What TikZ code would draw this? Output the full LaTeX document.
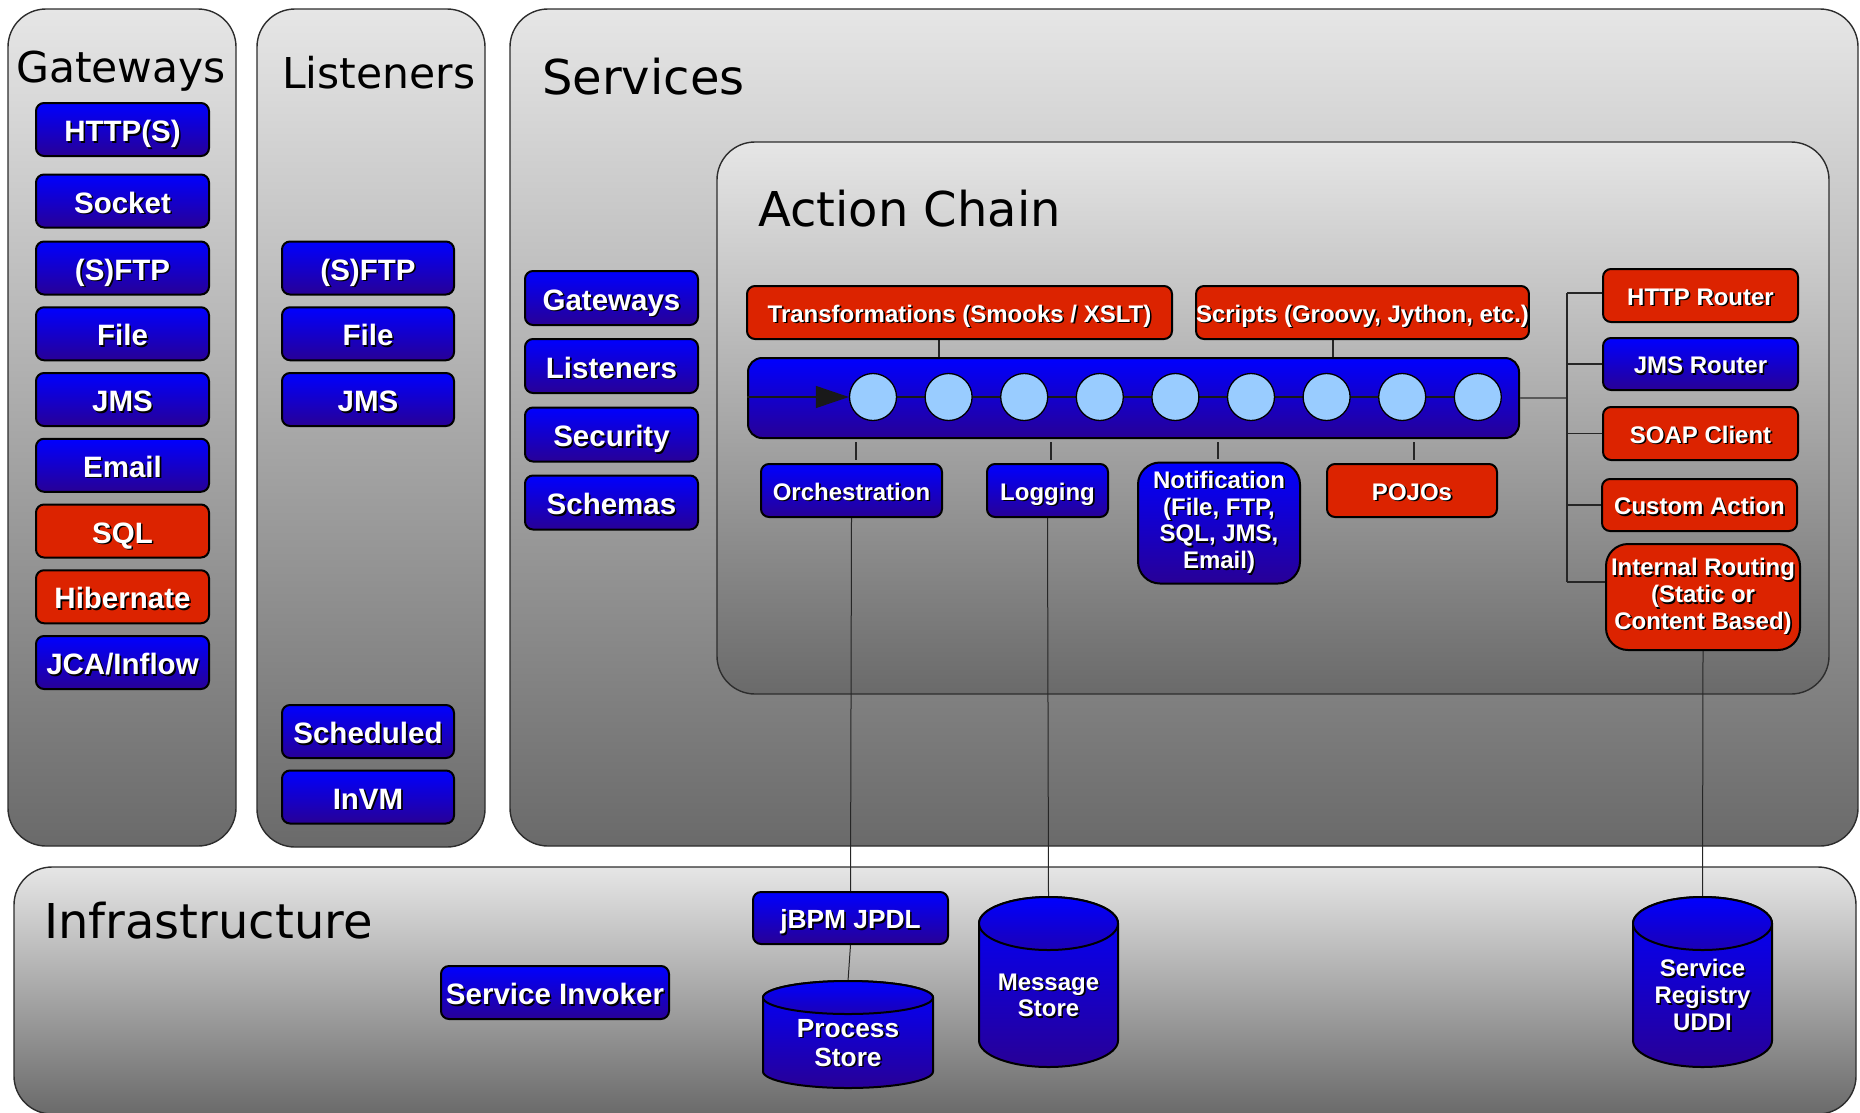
\documentclass[tikz,border=0pt]{standalone}
\usepackage{fontspec}
\setmainfont{Liberation Sans}
\newfontfamily\titlefont{DejaVu Sans}
\usetikzlibrary{arrows.meta,calc}
\definecolor{bTop}{RGB}{0,0,255}
\definecolor{bBot}{RGB}{40,0,150}
\definecolor{rFill}{RGB}{220,35,0}
\definecolor{pTop}{RGB}{230,230,230}
\definecolor{pBot}{RGB}{106,106,106}
\definecolor{circ}{RGB}{153,204,255}
\definecolor{pEdge}{RGB}{45,45,45}
\newcommand{\shx}[1]{\leavevmode\rlap{\hspace{1.6pt}\raisebox{-1.6pt}{\color{black}#1}}#1}
\newcommand{\cylbody}[6]{%
 \path[top color=bTop, bottom color=bBot, draw=black, line width=2pt]
   (#2-#3,#4) -- (#2-#3,#5) arc[start angle=180,end angle=360,x radius=#3pt,y radius=#6pt]
   -- (#2+#3,#4) arc[start angle=0,end angle=180,x radius=#3pt,y radius=#6pt] -- cycle;
 \path[top color=bTop, bottom color=bBot!70!bTop, draw=black, line width=2pt]
   (#2,#4) ellipse[x radius=#3pt, y radius=#6pt];
 \coordinate (#1) at (#2,#4-#6);
}
\pgfdeclarelayer{panel}\pgfdeclarelayer{conn}\pgfdeclarelayer{chainline}
\pgfsetlayers{panel,conn,chainline,main}
\tikzset{
  panel/.style={draw=pEdge, line width=1.4pt, rounded corners=38pt, top color=pTop, bottom color=pBot, inner sep=0pt},
  sz/.style 2 args={minimum width=#1pt, minimum height=#2pt},
  box/.style={draw=black, line width=2pt, rounded corners=8pt, inner sep=0pt, text=white,
     font=\bfseries\fontsize{29.5}{34}\selectfont, align=center},
  one/.style={text height=25.1pt, text depth=1pt},
  onesm/.style={text height=20pt, text depth=0.4pt},
  onemid/.style={text height=21.5pt, text depth=0.3pt},
  bluebox/.style={box, top color=bTop, bottom color=bBot},
  redbox/.style={box, fill=rFill},
  small/.style={font=\bfseries\fontsize{24}{26.7}\selectfont},
  mid/.style={font=\bfseries\fontsize{26.3}{29}\selectfont},
  bigtitle/.style={anchor=base west, font=\titlefont\fontsize{48}{56}\selectfont, inner sep=0pt},
  smalltitle/.style={anchor=base west, font=\titlefont\fontsize{42.5}{50}\selectfont, inner sep=0pt},
  conn/.style={draw=black!85, line width=1.3pt},
  cyltext/.style={text=white, align=center, inner sep=0pt},
  dot/.style={circle, draw=black, line width=1.3pt, fill=circ, minimum size=47pt, inner sep=0pt},
}
\begin{document}
\begin{tikzpicture}[x=1pt,y=-1pt]
\useasboundingbox (0,0) rectangle (1860,1112);
% ---------- panels ----------
\begin{pgfonlayer}{panel}
\node[panel, sz={228}{837}] (gwpanel) at (122,427.5) {};
\node[panel, sz={228}{838}] (lspanel) at (371,428) {};
\node[panel, sz={1348}{837}] (svpanel) at (1184,427.5) {};
\node[panel, sz={1112}{552}] (acpanel) at (1273,418) {};
\node[panel, sz={1842}{247}] (infpanel) at (935,990.5) {};
\end{pgfonlayer}
% ---------- titles ----------
\node[smalltitle] (tgw) at (16,82) {Gateways};
\node[smalltitle] (tls) at (282,88) {Listeners};
\node[bigtitle] (tsv) at (542,94) {Services};
\node[bigtitle] (tac) at (758,226) {Action Chain};
\node[bigtitle] (tinf) at (44,938) {Infrastructure};
% ---------- gateways ----------
\node[bluebox, one, sz={173}{53}] (g1) at (122.5,129.5) {\shx{HTTP(S)}};
\node[bluebox, one, sz={173}{53}] (g2) at (122.5,201) {\shx{Socket}};
\node[bluebox, one, sz={173}{53}] (g3) at (122.5,268) {\shx{(S)FTP}};
\node[bluebox, one, sz={173}{53}] (g4) at (122.5,333.75) {\shx{File}};
\node[bluebox, one, sz={173}{53}] (g5) at (122.5,399.5) {\shx{JMS}};
\node[bluebox, one, sz={173}{53}] (g6) at (122.5,465.25) {\shx{Email}};
\node[redbox, one, sz={173}{53}] (g7) at (122.5,531) {\shx{SQL}};
\node[redbox, one, sz={173}{53}] (g8) at (122.5,596.75) {\shx{Hibernate}};
\node[bluebox, one, sz={173}{53}] (g9) at (122.5,662.5) {\shx{JCA/Inflow}};
% ---------- listeners ----------
\node[bluebox, one, sz={172}{53}] (l1) at (368,268) {\shx{(S)FTP}};
\node[bluebox, one, sz={172}{53}] (l2) at (368,333.75) {\shx{File}};
\node[bluebox, one, sz={172}{53}] (l3) at (368,399.5) {\shx{JMS}};
\node[bluebox, one, sz={172}{53}] (l4) at (368,731.5) {\shx{Scheduled}};
\node[bluebox, one, sz={172}{53}] (l5) at (368,797) {\shx{InVM}};
% ---------- services column ----------
\node[bluebox, one, sz={173}{54}] (s1) at (611.5,298) {\shx{Gateways}};
\node[bluebox, one, sz={173}{54}] (s2) at (611.5,366) {\shx{Listeners}};
\node[bluebox, one, sz={173}{54}] (s3) at (611.5,434.5) {\shx{Security}};
\node[bluebox, one, sz={173}{54}] (s4) at (611.5,502.5) {\shx{Schemas}};
% ---------- action chain ----------
\node[redbox, small, onesm, sz={425}{53}] (trans) at (959.5,312.5) {\shx{Transformations (Smooks / XSLT)}};
\node[redbox, small, onesm, sz={323}{53}] (scr) at (1362.5,312.5) {\shx{Scripts (Groovy, Jython, etc.)}};
\begin{pgfonlayer}{conn}
\node[bluebox, rounded corners=14pt, sz={771}{80}] (chain) at (1133.5,398) {};
\end{pgfonlayer}
\foreach \i in {1,...,9} {
  \node[dot] (c\i) at ({873+75.6*(\i-1)},397) {};
}
\begin{pgfonlayer}{chainline}
\draw[line width=1.3pt, draw=black!90, -{Triangle[length=33pt,width=22pt]}] (chain.west |- c1) -- (c1.west);
\draw[line width=1.3pt, draw=black!90] (c1) -- (c9);
\end{pgfonlayer}
\node[bluebox, small, onesm, sz={181}{53}] (orch) at (851.5,490.5) {\shx{Orchestration}};
\node[bluebox, small, onesm, sz={121}{53}] (logg) at (1047.5,490.5) {\shx{Logging}};
\node[bluebox, small, rounded corners=22pt, sz={162}{121}] (notif) at (1219,523) {\shx{Notification}\\\shx{(File, FTP,}\\\shx{SQL, JMS,}\\\shx{Email)}};
\node[redbox, small, onesm, sz={170}{53}] (pojo) at (1412,490.5) {\shx{POJOs}};
% routers
\node[redbox, small, onesm, sz={195}{53}] (http) at (1700.5,295.5) {\shx{HTTP Router}};
\node[bluebox, small, onesm, sz={195}{52}] (jms) at (1700.5,364) {\shx{JMS Router}};
\node[redbox, small, onesm, sz={195}{53}] (soap) at (1700.5,433.5) {\shx{SOAP Client}};
\node[redbox, small, onesm, sz={195}{52}] (cust) at (1699.5,505) {\shx{Custom Action}};
\node[redbox, small, rounded corners=22pt, sz={194}{106}] (ir) at (1703,597) {\shx{Internal Routing}\\\shx{(Static or}\\\shx{Content Based)}};
% ---------- infrastructure ----------
\node[bluebox, one, sz={228}{53}] (inv) at (555,992.5) {\shx{Service Invoker}};
\node[bluebox, mid, onemid, sz={195}{52}] (jbpm) at (850.5,918) {\shx{jBPM JPDL}};
\cylbody{psT}{848}{85}{997.5}{1071.5}{16.5}
\cylbody{msT}{1048.5}{69.5}{923.5}{1040.5}{26.5}
\cylbody{srT}{1702.5}{69.5}{923.5}{1040.5}{26.5}
\node[cyltext, mid] (ps) at (848,1043.5) {\shx{Process}\\\shx{Store}};
\node[cyltext, small] (ms) at (1048.5,996) {\shx{Message}\\\shx{Store}};
\node[cyltext, small, font=\bfseries\fontsize{24}{27}\selectfont] (sr) at (1702.5,996) {\shx{Service}\\\shx{Registry}\\\shx{UDDI}};
% ---------- connectors ----------
\coordinate (brT) at (1567,293);
\coordinate (brB) at (1567,582);
\begin{pgfonlayer}{conn}
\draw[conn] ([xshift=-20.5pt]trans.south) -- ([xshift=-20.5pt]trans.south |- chain.north);
\draw[conn] ([xshift=-29.5pt]scr.south) -- ([xshift=-29.5pt]scr.south |- chain.north);
\draw[conn, shorten <=3pt, shorten >=3pt] ([xshift=4.5pt]orch.north |- chain.south) -- ([xshift=4.5pt]orch.north);
\draw[conn, shorten <=3pt, shorten >=3pt] ([xshift=3.5pt]logg.north |- chain.south) -- ([xshift=3.5pt]logg.north);
\draw[conn, shorten <=3pt, shorten >=3pt] ([xshift=-1pt]notif.north |- chain.south) -- ([xshift=-1pt]notif.north);
\draw[conn, shorten <=3pt, shorten >=3pt] ([xshift=2pt]pojo.north |- chain.south) -- ([xshift=2pt]pojo.north);
\draw[conn, draw=black!65] (chain.east) -- (chain.east -| brT);
\draw[conn, line width=1.8pt] (brT) -- (brB);
\draw[conn, line width=1.8pt] (brT) -- (brT -| http.west);
\draw[conn, line width=1.8pt] (jms.west -| brT) -- (jms.west);
\draw[conn, line width=1.8pt] (soap.west -| brT) -- (soap.west);
\draw[conn, line width=1.8pt] (cust.west -| brT) -- (cust.west);
\draw[conn, line width=1.8pt] (brB) -- (brB -| ir.west);
\draw[conn, line width=1pt] (orch.south) -- (jbpm.north);
\draw[conn, line width=1pt] (jbpm.south) -- (psT);
\draw[conn, line width=1pt] (logg.south) -- (msT);
\draw[conn, line width=1pt] (ir.south) -- (srT);
\end{pgfonlayer}
\end{tikzpicture}
\end{document}
